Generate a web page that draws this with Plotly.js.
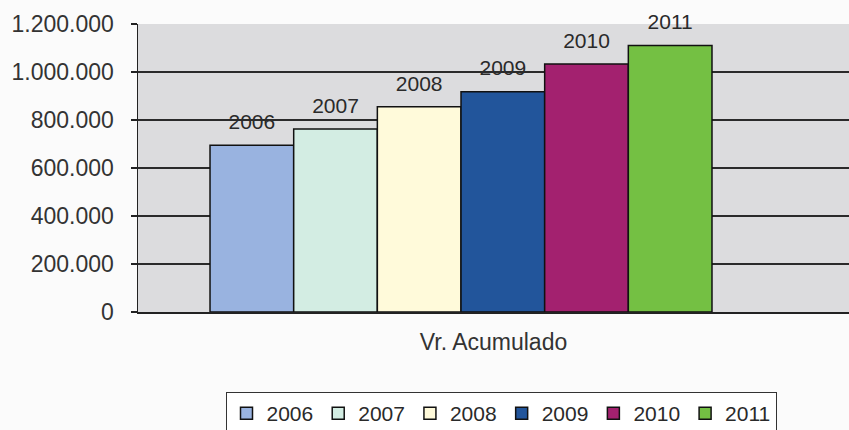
<!DOCTYPE html>
<html>
<head>
<meta charset="utf-8">
<script src="https://cdn.plot.ly/plotly-3.0.1.min.js"></script>
<style>html,body{margin:0;padding:0;background:#fbfbfb;}#chart{width:849px;height:430px;}</style>
</head>
<body>
<div id="chart"></div>
<script>
var category = ["Vr. Acumulado"];
var years = ["2006", "2007", "2008", "2009", "2010", "2011"];
var values = [695000, 762000, 855000, 918000, 1033000, 1110000];
var colors = ["#99B3E0", "#D3EDE3", "#FFFADA", "#22559B", "#A3216F", "#74C043"];
var yTicks = [0, 200000, 400000, 600000, 800000, 1000000, 1200000];

var FONT = "Liberation Sans, Arial, sans-serif";
var traces = [];
years.forEach(function (yr, i) {
  traces.push({
    type: "bar",
    name: yr,
    x: category,
    y: [values[i]],
    offsetgroup: "g" + i,
    marker: {color: colors[i], line: {color: "#111", width: 1.5}},
    hoverinfo: "skip"
  });
});
years.forEach(function (yr, i) {
  traces.push({
    type: "scatter",
    mode: "markers+text",
    x: category,
    y: [values[i]],
    offsetgroup: "g" + i,
    text: [yr],
    textposition: "top center",
    textfont: {family: FONT, size: 21, color: "#2a2a2a"},
    marker: {size: 16, opacity: 0},
    showlegend: false,
    hoverinfo: "skip",
    cliponaxis: false
  });
});

var layout = {
  width: 849, height: 430,
  margin: {l: 138, r: 0, t: 24, b: 118},
  paper_bgcolor: "#fbfbfb",
  plot_bgcolor: "#dcdcde",
  separators: ",.",
  barmode: "group",
  bargap: 0.294,
  bargroupgap: 0,
  scattermode: "group",
  scattergap: 0.294,
  font: {family: FONT, color: "#333"},
  xaxis: {
    type: "category",
    range: [-0.4543, 0.5457],
    showticklabels: false,
    ticks: "",
    showline: true, linecolor: "#222", linewidth: 1.5,
    showgrid: false,
    title: {text: "Vr. Acumulado", font: {family: FONT, size: 23, color: "#333"}, standoff: 21}
  },
  yaxis: {
    range: [0, 1200000],
    tickvals: yTicks,
    tickformat: ",d",
    ticks: "outside", ticklen: 6, tickcolor: "#222", tickwidth: 1.5,
    ticklabelstandoff: 12,
    tickfont: {family: FONT, size: 23, color: "#333"},
    showline: true, linecolor: "#222", linewidth: 1.5,
    showgrid: true, gridcolor: "#2a2a2a", gridwidth: 1.5,
    zeroline: false
  },
  showlegend: true,
  legend: {
    orientation: "h",
    xref: "container", yref: "container",
    x: 501 / 849, xanchor: "center",
    y: 1 - 392 / 430, yanchor: "top",
    bgcolor: "#ffffff",
    bordercolor: "#333", borderwidth: 1,
    font: {family: FONT, size: 21, color: "#2a2a2a"},
    itemwidth: 30,
    traceorder: "normal"
  }
};

Plotly.newPlot("chart", traces, layout, {displayModeBar: false, staticPlot: true});
</script>
</body>
</html>
